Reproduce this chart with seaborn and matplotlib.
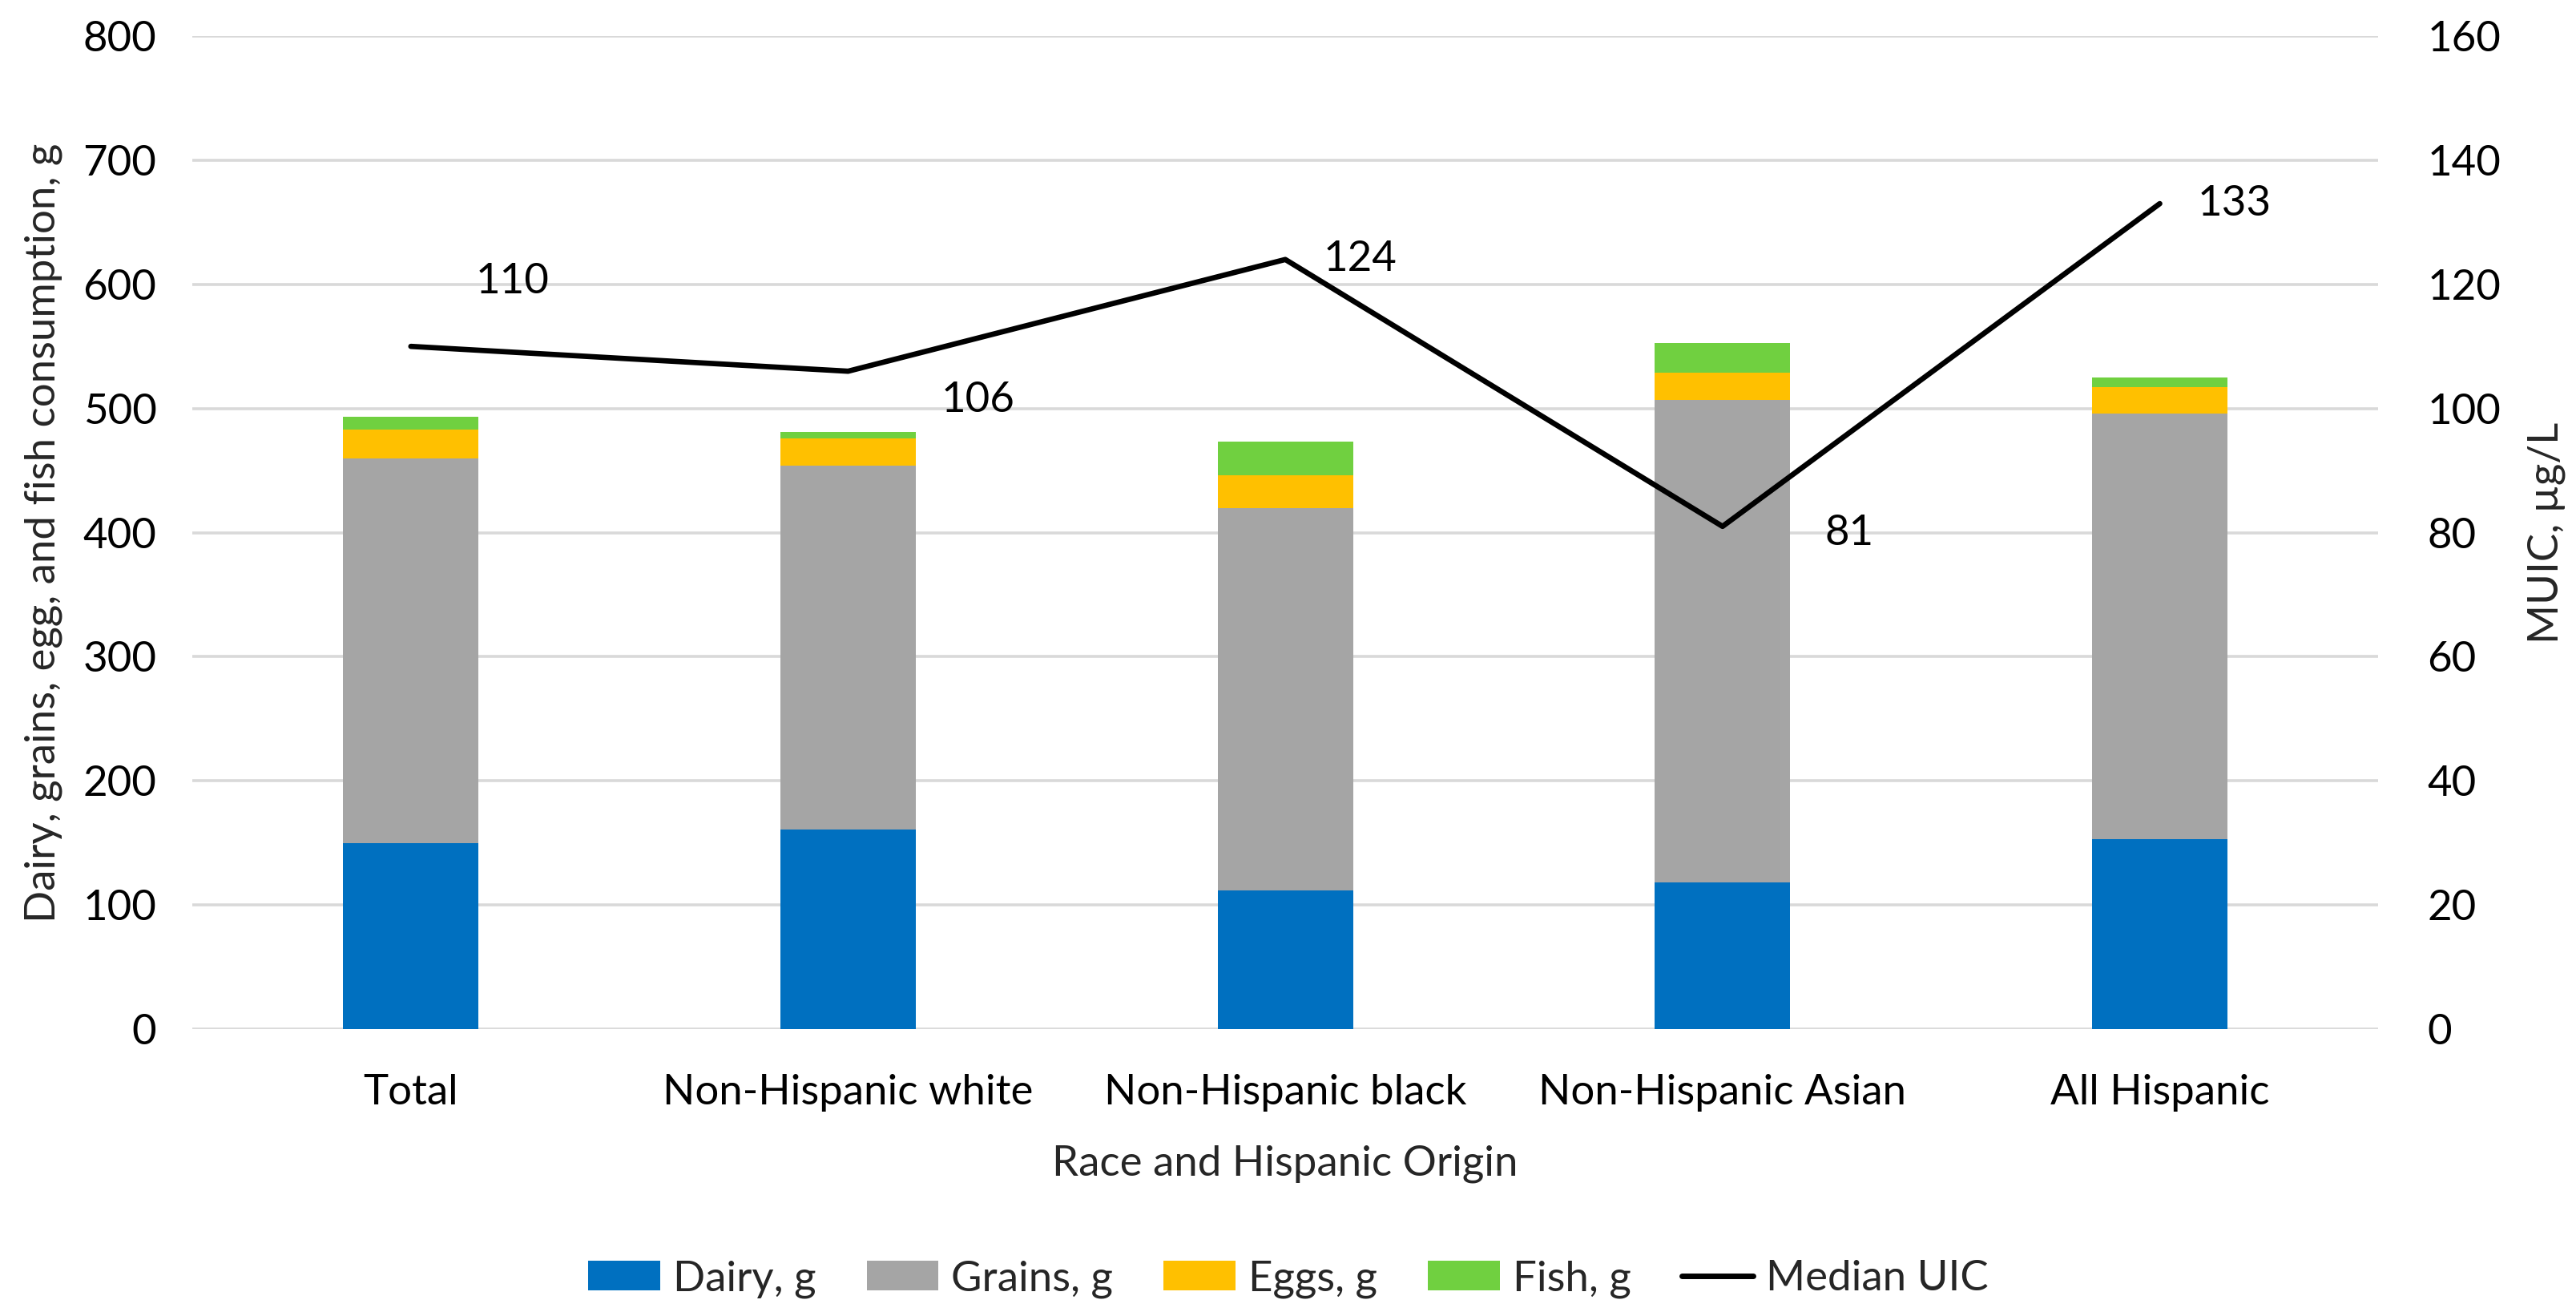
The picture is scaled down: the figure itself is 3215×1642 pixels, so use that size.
import matplotlib
matplotlib.use("Agg")
import matplotlib.pyplot as plt
import seaborn as sns
import numpy as np
import pandas as pd
from matplotlib.patches import Patch
from matplotlib.lines import Line2D

categories = ["Total", "Non-Hispanic white", "Non-Hispanic black", "Non-Hispanic Asian", "All Hispanic"]
dairy = [150, 161, 112, 118, 153]
grains = [310, 293, 308, 389, 343]
eggs = [23, 22, 26, 22, 21]
fish = [10, 5, 27, 24, 8]
median_uic = [110, 106, 124, 81, 133]
left_ticks = [0, 100, 200, 300, 400, 500, 600, 700, 800]
right_ticks = [0, 20, 40, 60, 80, 100, 120, 140, 160]

sns.set_theme(style="white")
plt.rcParams['font.family'] = ['Lato', 'DejaVu Sans']

FS = 19
colors = {"Dairy, g": "#0070C0", "Grains, g": "#A5A5A5", "Eggs, g": "#FFC000", "Fish, g": "#70D040"}

fig = plt.figure(figsize=(16.08, 8.21), dpi=200)
ax = fig.add_axes([0.0746, 0.218, 0.923 - 0.0746, 0.9726 - 0.218])

layers = [("Dairy, g", dairy), ("Grains, g", grains), ("Eggs, g", eggs), ("Fish, g", fish)]
cum = np.cumsum(np.array([l[1] for l in layers]), axis=0)
df = pd.DataFrame({"cat": categories})
for i in reversed(range(len(layers))):
    df["v"] = cum[i]
    sns.barplot(data=df, x="cat", y="v", color=colors[layers[i][0]], width=0.31,
                saturation=1, ax=ax, zorder=3, edgecolor="none", linewidth=0)

ax.set_ylim(0, 800)
ax.set_xlim(-0.5, 4.5)
ax.set_yticks(left_ticks)
ax.yaxis.grid(True, color="#D9D9D9", linewidth=1.3, zorder=0)
ax.set_axisbelow(True)
for s in ax.spines.values():
    s.set_visible(False)
ax.tick_params(axis="both", length=0, labelsize=FS, colors="#000000")
ax.tick_params(axis="x", pad=20)
ax.tick_params(axis="y", pad=16)
ax.set_xlabel("Race and Hispanic Origin", fontsize=FS, labelpad=15)
ax.set_ylabel("Dairy, grains, egg, and fish consumption, g", fontsize=FS, labelpad=9)

ax2 = ax.twinx()
sns.lineplot(x=np.arange(len(categories)), y=median_uic, color="black", linewidth=2.4, ax=ax2, zorder=5)
ax2.set_ylim(0, 160)
ax2.set_yticks(right_ticks)
for s in ax2.spines.values():
    s.set_visible(False)
ax2.tick_params(axis="y", length=0, labelsize=FS, pad=22, colors="#000000")
ax2.set_ylabel("MUIC, µg/L", fontsize=FS, labelpad=12)
ax2.grid(False)

offsets = [(29, 29), (42, -13), (17, 0), (46, -3), (17, 0)]
for i, v in enumerate(median_uic):
    dx, dy = offsets[i]
    ax2.annotate(str(v), (i, v), xytext=(dx, dy), textcoords="offset points",
                 fontsize=FS, ha="left", va="center", color="black")

handles = [Patch(facecolor=colors[k], edgecolor="none") for k, _ in layers]
handles.append(Line2D([0], [0], color="black", linewidth=2.5))
labels = [k for k, _ in layers] + ["Median UIC"]
fig.legend(handles, labels, loc="center", bbox_to_anchor=(0.5, 0.028), ncol=5, frameon=False,
           fontsize=FS, handlelength=1.7, handleheight=0.7, columnspacing=1.2, handletextpad=0.3)

fig.savefig("out.png", dpi=200)
